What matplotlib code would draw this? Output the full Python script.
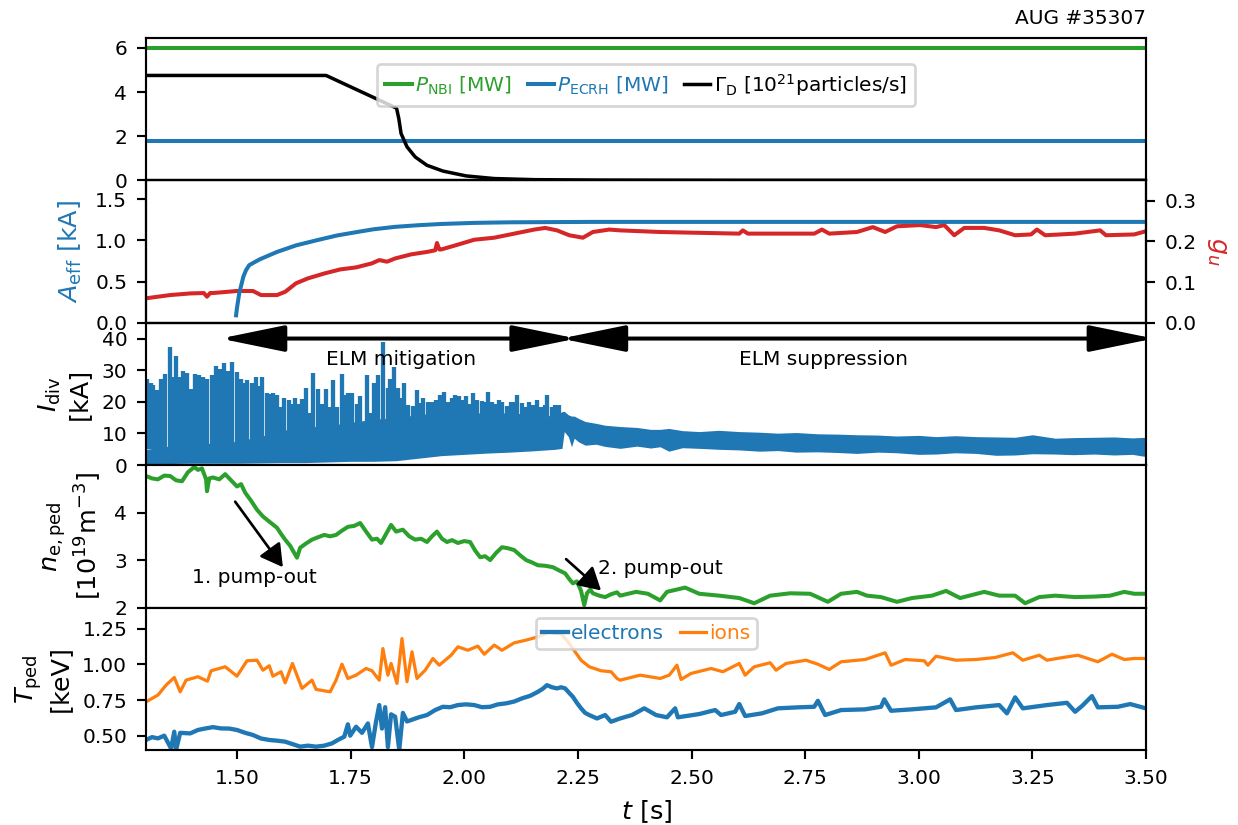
import matplotlib
matplotlib.use("Agg")
import matplotlib.pyplot as plt
from matplotlib.patches import ArrowStyle

# ---------------- data ----------------
# heating powers [MW]
t_nbi = [1.30, 3.50]
p_nbi = [6.0, 6.0]
t_ecrh = [1.30, 3.50]
p_ecrh = [1.76, 1.76]

# deuterium fuelling rate [1e21 particles/s]
t_gas = [1.300, 1.696, 1.851, 1.856, 1.861, 1.874, 1.892, 1.918, 1.953,
         2.004, 2.066, 2.154, 2.300, 2.600, 3.500]
gamma_d = [4.75, 4.75, 3.27, 2.80, 2.12, 1.52, 1.06, 0.68, 0.42,
           0.20, 0.08, 0.03, 0.01, 0.0, 0.0]

# effective coil current [kA]
t_aeff = [1.498, 1.500, 1.505, 1.510, 1.514, 1.520, 1.527, 1.550, 1.588, 1.630,
          1.674, 1.720, 1.762, 1.800, 1.848, 1.900, 1.950, 2.022, 2.100, 2.283,
          2.500, 3.500]
a_eff = [0.09, 0.18, 0.36, 0.47, 0.56, 0.64, 0.70, 0.77, 0.86, 0.94,
         1.00, 1.06, 1.10, 1.135, 1.165, 1.185, 1.200, 1.213, 1.220, 1.225,
         1.225, 1.225]

# g_u
t_gu = [1.300, 1.326, 1.353, 1.397, 1.427, 1.434, 1.441, 1.447, 1.500, 1.535,
        1.553, 1.588, 1.606, 1.630, 1.656, 1.692, 1.727, 1.762, 1.797, 1.813,
        1.830, 1.848, 1.883, 1.918, 1.936, 1.940, 1.945, 1.949, 1.980, 2.022,
        2.066, 2.110, 2.154, 2.178, 2.204, 2.231, 2.261, 2.283, 2.319, 2.343,
        2.431, 2.517, 2.605, 2.613, 2.624, 2.690, 2.770, 2.787, 2.803, 2.864,
        2.899, 2.926, 2.952, 3.003, 3.038, 3.056, 3.078, 3.100, 3.144, 3.177,
        3.212, 3.247, 3.260, 3.278, 3.344, 3.399, 3.412, 3.474, 3.500]
g_u = [0.060, 0.064, 0.068, 0.072, 0.073, 0.064, 0.073, 0.073, 0.078, 0.078,
       0.068, 0.068, 0.076, 0.097, 0.109, 0.121, 0.131, 0.136, 0.146, 0.154,
       0.150, 0.158, 0.168, 0.174, 0.178, 0.196, 0.180, 0.180, 0.190, 0.204,
       0.209, 0.219, 0.229, 0.233, 0.227, 0.215, 0.209, 0.223, 0.229, 0.227,
       0.223, 0.221, 0.219, 0.227, 0.219, 0.219, 0.219, 0.229, 0.219, 0.223,
       0.235, 0.223, 0.237, 0.240, 0.235, 0.240, 0.215, 0.233, 0.233, 0.227,
       0.215, 0.217, 0.229, 0.215, 0.219, 0.227, 0.215, 0.217, 0.225]

# divertor current [kA]: dense band (lower / upper edge) and individual ELM peaks
idiv_t = [1.300, 1.350, 1.400, 1.450, 1.500, 1.550, 1.600, 1.650, 1.700, 1.750,
          1.800, 1.850, 1.900, 1.950, 2.000, 2.050, 2.100, 2.150, 2.200, 2.215,
          2.220, 2.229, 2.236, 2.242, 2.251, 2.266, 2.290, 2.310, 2.343, 2.380,
          2.410, 2.431, 2.450, 2.480, 2.517, 2.560, 2.605, 2.650, 2.690, 2.730,
          2.778, 2.820, 2.864, 2.910, 2.952, 3.000, 3.038, 3.080, 3.126, 3.170,
          3.212, 3.250, 3.300, 3.340, 3.386, 3.430, 3.470, 3.500]
idiv_lo = [0.3, 0.5, 0.6, 0.6, 0.6, 0.7, 0.8, 0.8, 1.0, 1.2,
           1.2, 1.4, 2.2, 3.0, 3.4, 3.8, 4.1, 4.5, 5.0, 5.3,
           10.6, 9.0, 5.8, 8.5, 7.4, 6.3, 6.6, 5.9, 5.3, 6.0,
           5.4, 5.8, 4.4, 5.5, 5.3, 5.0, 4.8, 4.4, 4.6, 4.1,
           4.2, 4.0, 3.7, 4.1, 3.9, 3.4, 3.5, 3.9, 3.7, 3.1,
           3.2, 3.6, 3.5, 3.3, 3.5, 3.2, 3.4, 2.7]
idiv_hi = [5.0, 6.0, 6.5, 7.0, 7.5, 9.0, 11.0, 12.0, 12.5, 13.5,
           14.5, 15.0, 16.0, 16.5, 16.5, 16.5, 16.5, 16.0, 15.5, 16.9,
           17.0, 15.9, 15.5, 15.5, 14.8, 13.8, 13.2, 12.6, 12.2, 11.9,
           11.3, 11.3, 11.6, 10.9, 10.6, 11.0, 10.6, 10.4, 10.1, 10.3,
           9.9, 9.8, 9.6, 9.5, 9.2, 9.4, 9.0, 9.3, 9.0, 8.9,
           8.8, 9.6, 8.5, 8.7, 8.8, 8.9, 8.6, 8.8]
elm_t = [1.302, 1.311, 1.316, 1.324, 1.332, 1.342, 1.353, 1.358, 1.365, 1.373,
         1.382, 1.389, 1.398, 1.408, 1.417, 1.425, 1.433, 1.445, 1.454, 1.463,
         1.472, 1.481, 1.490, 1.500, 1.508, 1.516, 1.523, 1.533, 1.541, 1.549,
         1.556, 1.565, 1.573, 1.580, 1.588, 1.595, 1.604, 1.614, 1.621, 1.627,
         1.636, 1.643, 1.651, 1.659, 1.668, 1.678, 1.687, 1.695, 1.703, 1.712,
         1.721, 1.731, 1.738, 1.745, 1.754, 1.764, 1.771, 1.786, 1.795, 1.802,
         1.810, 1.821, 1.832, 1.837, 1.846, 1.854, 1.862, 1.868, 1.877, 1.888,
         1.896, 1.903, 1.910, 1.920, 1.928, 1.937, 1.947, 1.956, 1.965, 1.974,
         1.980, 1.989, 1.998, 2.004, 2.013, 2.020, 2.029, 2.038, 2.046, 2.053,
         2.062, 2.068, 2.076, 2.084, 2.093, 2.102, 2.110, 2.117, 2.126, 2.134,
         2.143, 2.152, 2.159, 2.168, 2.178, 2.183, 2.192, 2.200, 2.209]
elm_peak = [27.2, 25.9, 25.4, 23.8, 27.2, 28.9, 37.4, 28.0, 34.6, 28.0,
            29.6, 29.1, 24.0, 28.9, 28.6, 27.7, 27.2, 28.6, 31.2, 30.4,
            32.3, 29.6, 32.5, 29.3, 27.2, 26.1, 26.8, 26.1, 27.7, 25.1,
            27.7, 22.9, 22.5, 22.9, 22.3, 18.3, 21.2, 20.6, 19.4, 21.2,
            19.4, 20.9, 24.4, 16.4, 29.1, 24.0, 19.4, 24.0, 18.3, 27.0,
            18.3, 28.9, 22.3, 22.9, 22.9, 19.4, 21.7, 28.6, 16.4, 25.9,
            28.6, 38.8, 24.3, 27.2, 31.0, 24.3, 21.2, 25.9, 19.0, 18.7,
            23.6, 19.6, 21.2, 20.1, 19.8, 20.6, 22.3, 23.0, 20.1, 21.2,
            22.3, 21.9, 20.6, 21.9, 19.4, 22.8, 20.6, 20.4, 19.8, 23.0,
            20.1, 19.4, 20.6, 20.1, 18.7, 19.8, 20.1, 22.3, 19.6, 18.5,
            19.8, 19.0, 20.6, 18.3, 19.0, 22.3, 18.5, 19.0, 19.0]

# pedestal density [1e19 m^-3]
t_ne = [1.300, 1.313, 1.326, 1.340, 1.353, 1.366, 1.379, 1.392, 1.406, 1.414,
        1.423, 1.432, 1.434, 1.439, 1.447, 1.461, 1.474, 1.487, 1.500, 1.509,
        1.518, 1.531, 1.544, 1.557, 1.571, 1.579, 1.588, 1.597, 1.606, 1.617,
        1.626, 1.632, 1.639, 1.652, 1.665, 1.678, 1.692, 1.705, 1.718, 1.731,
        1.744, 1.758, 1.771, 1.784, 1.797, 1.808, 1.817, 1.828, 1.839, 1.850,
        1.865, 1.879, 1.892, 1.905, 1.918, 1.929, 1.940, 1.951, 1.962, 1.973,
        1.986, 2.000, 2.013, 2.024, 2.035, 2.046, 2.057, 2.070, 2.083, 2.096,
        2.110, 2.123, 2.136, 2.149, 2.162, 2.178, 2.195, 2.209, 2.222, 2.231,
        2.239, 2.248, 2.257, 2.264, 2.270, 2.277, 2.283, 2.297, 2.310, 2.323,
        2.336, 2.343, 2.378, 2.404, 2.431, 2.446, 2.486, 2.517, 2.561, 2.605,
        2.638, 2.673, 2.717, 2.761, 2.800, 2.829, 2.864, 2.886, 2.917, 2.952,
        2.985, 3.029, 3.060, 3.091, 3.144, 3.177, 3.212, 3.234, 3.265, 3.300,
        3.344, 3.386, 3.421, 3.452, 3.474, 3.500]
n_e = [4.77, 4.72, 4.70, 4.78, 4.77, 4.68, 4.66, 4.85, 4.96, 4.90,
       4.93, 4.70, 4.45, 4.72, 4.74, 4.70, 4.81, 4.68, 4.55, 4.60,
       4.42, 4.25, 4.06, 3.92, 3.81, 3.75, 3.68, 3.55, 3.43, 3.30,
       3.15, 3.05, 3.26, 3.35, 3.43, 3.48, 3.53, 3.50, 3.53, 3.62,
       3.70, 3.72, 3.78, 3.60, 3.43, 3.45, 3.36, 3.55, 3.74, 3.60,
       3.64, 3.50, 3.43, 3.45, 3.38, 3.50, 3.60, 3.45, 3.38, 3.42,
       3.36, 3.40, 3.38, 3.20, 3.06, 3.08, 3.00, 3.15, 3.27, 3.25,
       3.21, 3.10, 3.00, 2.95, 2.89, 2.88, 2.85, 2.78, 2.72, 2.60,
       2.51, 2.55, 2.35, 2.05, 2.30, 2.38, 2.30, 2.25, 2.22, 2.28,
       2.32, 2.25, 2.33, 2.29, 2.15, 2.33, 2.42, 2.29, 2.25, 2.20,
       2.09, 2.25, 2.30, 2.29, 2.12, 2.29, 2.33, 2.25, 2.22, 2.12,
       2.20, 2.25, 2.35, 2.20, 2.33, 2.25, 2.25, 2.09, 2.22, 2.25,
       2.22, 2.23, 2.25, 2.33, 2.29, 2.29]

# pedestal temperatures [keV]
t_te = [1.300, 1.313, 1.326, 1.340, 1.355, 1.362, 1.366, 1.375, 1.397, 1.414,
        1.431, 1.447, 1.465, 1.483, 1.500, 1.518, 1.535, 1.553, 1.571, 1.588,
        1.606, 1.623, 1.639, 1.656, 1.674, 1.692, 1.709, 1.722, 1.736, 1.744,
        1.749, 1.762, 1.775, 1.788, 1.797, 1.806, 1.813, 1.819, 1.826, 1.832,
        1.839, 1.848, 1.857, 1.865, 1.874, 1.883, 1.901, 1.918, 1.936, 1.953,
        1.969, 1.986, 2.004, 2.022, 2.039, 2.057, 2.074, 2.092, 2.110, 2.127,
        2.145, 2.162, 2.173, 2.182, 2.193, 2.204, 2.213, 2.222, 2.231, 2.239,
        2.248, 2.257, 2.266, 2.275, 2.292, 2.310, 2.323, 2.343, 2.369, 2.396,
        2.422, 2.446, 2.464, 2.470, 2.517, 2.552, 2.565, 2.596, 2.605, 2.618,
        2.655, 2.690, 2.734, 2.770, 2.778, 2.794, 2.829, 2.882, 2.917, 2.924,
        2.939, 2.985, 3.038, 3.069, 3.082, 3.126, 3.177, 3.194, 3.212, 3.229,
        3.282, 3.326, 3.344, 3.359, 3.381, 3.394, 3.438, 3.465, 3.500]
t_e = [0.470, 0.490, 0.481, 0.500, 0.410, 0.528, 0.400, 0.520, 0.516, 0.540,
       0.551, 0.560, 0.551, 0.550, 0.540, 0.520, 0.505, 0.480, 0.470, 0.465,
       0.458, 0.440, 0.423, 0.430, 0.423, 0.430, 0.446, 0.470, 0.493, 0.580,
       0.500, 0.563, 0.520, 0.586, 0.420, 0.600, 0.715, 0.550, 0.700, 0.420,
       0.650, 0.633, 0.400, 0.660, 0.600, 0.610, 0.630, 0.645, 0.680, 0.703,
       0.700, 0.715, 0.720, 0.715, 0.700, 0.703, 0.720, 0.727, 0.740, 0.762,
       0.780, 0.808, 0.830, 0.855, 0.840, 0.832, 0.840, 0.832, 0.800, 0.773,
       0.730, 0.692, 0.660, 0.645, 0.621, 0.645, 0.598, 0.621, 0.645, 0.692,
       0.645, 0.629, 0.692, 0.629, 0.652, 0.680, 0.645, 0.668, 0.722, 0.638,
       0.657, 0.692, 0.699, 0.703, 0.745, 0.645, 0.680, 0.685, 0.703, 0.755,
       0.675, 0.685, 0.699, 0.755, 0.680, 0.699, 0.715, 0.657, 0.769, 0.692,
       0.715, 0.731, 0.668, 0.708, 0.778, 0.699, 0.703, 0.722, 0.692]

t_ti = [1.300, 1.326, 1.344, 1.362, 1.375, 1.388, 1.414, 1.435, 1.443, 1.474,
        1.500, 1.522, 1.544, 1.557, 1.571, 1.579, 1.597, 1.606, 1.622, 1.643,
        1.665, 1.674, 1.705, 1.718, 1.731, 1.744, 1.762, 1.784, 1.797, 1.813,
        1.821, 1.832, 1.839, 1.852, 1.863, 1.874, 1.885, 1.896, 1.914, 1.931,
        1.945, 1.971, 1.986, 2.008, 2.030, 2.044, 2.066, 2.083, 2.110, 2.136,
        2.162, 2.187, 2.200, 2.213, 2.231, 2.257, 2.275, 2.301, 2.323, 2.336,
        2.343, 2.387, 2.431, 2.451, 2.468, 2.477, 2.499, 2.543, 2.569, 2.605,
        2.618, 2.638, 2.673, 2.686, 2.708, 2.752, 2.778, 2.803, 2.829, 2.882,
        2.926, 2.939, 2.970, 3.012, 3.020, 3.038, 3.082, 3.126, 3.168, 3.207,
        3.229, 3.265, 3.282, 3.317, 3.350, 3.394, 3.425, 3.452, 3.474, 3.500]
t_i = [0.738, 0.785, 0.855, 0.909, 0.808, 0.890, 0.914, 0.883, 0.956, 0.984,
       0.918, 1.026, 1.030, 0.960, 0.991, 0.918, 0.949, 0.871, 1.007, 0.832,
       0.890, 0.825, 0.808, 0.890, 1.002, 0.902, 0.925, 0.972, 0.956, 0.890,
       1.112, 0.925, 1.007, 0.867, 1.182, 0.879, 1.089, 0.902, 0.960, 1.042,
       0.995, 1.065, 1.124, 1.100, 1.129, 1.072, 1.136, 1.100, 1.152, 1.171,
       1.194, 1.229, 1.217, 1.217, 1.147, 1.030, 0.984, 0.956, 0.949, 0.902,
       0.890, 0.925, 0.902, 0.925, 0.995, 0.895, 0.937, 0.972, 0.949, 1.007,
       0.925, 0.984, 1.012, 0.960, 1.007, 1.030, 1.002, 0.965, 1.019, 1.035,
       1.082, 0.995, 1.035, 1.026, 0.995, 1.058, 1.030, 1.035, 1.049, 1.082,
       1.030, 1.065, 1.030, 1.049, 1.065, 1.019, 1.072, 1.035, 1.042, 1.042]

x_ticks = [1.50, 1.75, 2.00, 2.25, 2.50, 2.75, 3.00, 3.25, 3.50]
x_tick_labels = ["1.50", "1.75", "2.00", "2.25", "2.50", "2.75", "3.00", "3.25", "3.50"]

# ---------------- figure ----------------
plt.rcParams.update({
    "font.size": 7.5,
    "lines.linewidth": 1.5,
    "legend.fontsize": 7.5,
})

C_BLUE, C_ORANGE, C_GREEN, C_RED = "#1f77b4", "#ff7f0e", "#2ca02c", "#d62728"
LABEL_SIZE = 9.5

fig, axes = plt.subplots(5, 1, sharex=True, figsize=(6.4, 4.265), dpi=193.44)
fig.subplots_adjust(left=0.118, right=0.9257, top=0.954, bottom=0.091, hspace=0)
ax1, ax2, ax3, ax4, ax5 = axes


def colour_legend(leg):
    for txt, ln in zip(leg.get_texts(), leg.get_lines()):
        txt.set_color(ln.get_color())


# panel 1: heating and gas puff
ax1.plot(t_nbi, p_nbi, color=C_GREEN, label=r"$P_{\rm NBI}$ [MW]")
ax1.plot(t_ecrh, p_ecrh, color=C_BLUE, label=r"$P_{\rm ECRH}$ [MW]")
ax1.plot(t_gas, gamma_d, color="k", lw=1.3,
         label=r"$\Gamma_{\rm D}$ [$10^{21}$particles/s]")
ax1.set_ylim(0, 6.45)
ax1.set_yticks([0, 2, 4, 6])
leg1 = ax1.legend(loc="upper center", bbox_to_anchor=(0.5, 0.89), ncol=3,
                  handlelength=1.3, handletextpad=0.15, columnspacing=0.8)
colour_legend(leg1)

# panel 2: coil current and g_u
ax2r = ax2.twinx()
ax2r.plot(t_gu, g_u, color=C_RED)
ax2.plot(t_aeff, a_eff, color=C_BLUE)
ax2.set_zorder(ax2r.get_zorder() + 1)
ax2.patch.set_visible(False)
ax2.set_ylim(0, 1.73)
ax2.set_yticks([0.0, 0.5, 1.0, 1.5])
ax2r.set_ylim(0, 0.35)
ax2r.set_yticks([0.0, 0.1, 0.2, 0.3])
ax2.set_ylabel(r"$A_{\rm eff}$ [kA]", color=C_BLUE, fontsize=LABEL_SIZE, labelpad=4)
ax2r.set_ylabel(r"$g_u$", color=C_RED, fontsize=LABEL_SIZE, rotation=270,
                labelpad=12)

# panel 3: divertor current with ELM phases
ax3.fill_between(idiv_t, idiv_lo, idiv_hi, color=C_BLUE, lw=0)
ax3.vlines(elm_t, 5.0, elm_peak, color=C_BLUE, lw=1.6)
ax3.set_ylim(0, 45)
ax3.set_yticks([0, 10, 20, 30, 40])
ax3.set_ylabel("$I_{\\rm div}$\n[kA]", fontsize=LABEL_SIZE, labelpad=4)

phase_arrow = dict(arrowstyle=ArrowStyle("<|-|>", head_length=2.05, head_width=0.42),
                   mutation_scale=10, lw=1.5, color="k", shrinkA=0, shrinkB=0,
                   clip_on=False)
ax3.annotate("", xy=(1.463, 40), xytext=(2.247, 40), arrowprops=phase_arrow,
             annotation_clip=False)
ax3.annotate("", xy=(2.213, 40), xytext=(3.517, 40), arrowprops=phase_arrow,
             annotation_clip=False)
ax3.text(1.862, 33.3, "ELM mitigation", ha="center", va="center")
ax3.text(2.79, 33.3, "ELM suppression", ha="center", va="center")

# panel 4: pedestal density with pump-out markers
ax4.plot(t_ne, n_e, color=C_GREEN)
ax4.set_ylim(2, 5.0)
ax4.set_yticks([2, 3, 4])
ax4.set_ylabel(r"$n_{\rm e,ped}$" + "\n" + r"[$10^{19}$m$^{-3}$]",
               fontsize=LABEL_SIZE, labelpad=4)
pump_arrow = dict(arrowstyle=ArrowStyle("-|>", head_length=0.7, head_width=0.4),
                  mutation_scale=10, lw=1.0, color="k", shrinkA=0, shrinkB=0)
ax4.annotate("", xy=(1.601, 2.85), xytext=(1.496, 4.23), arrowprops=pump_arrow)
ax4.text(1.538, 2.64, "1. pump-out", ha="center", va="center")
ax4.annotate("", xy=(2.301, 2.36), xytext=(2.224, 3.02), arrowprops=pump_arrow)
ax4.text(2.294, 2.83, "2. pump-out", ha="left", va="center")

# panel 5: pedestal temperatures
ax5.plot(t_te, t_e, color=C_BLUE, lw=1.6, label="electrons")
ax5.plot(t_ti, t_i, color=C_ORANGE, lw=1.2, label="ions")
ax5.set_ylim(0.4, 1.4)
ax5.set_yticks([0.50, 0.75, 1.00, 1.25])
ax5.set_ylabel("$T_{\\rm ped}$\n[keV]", fontsize=LABEL_SIZE, labelpad=4)
leg5 = ax5.legend(loc="upper center", ncol=2, handlelength=1.3,
                  handletextpad=0.15, columnspacing=0.8, borderpad=0.3)
colour_legend(leg5)

ax5.set_xlim(1.3, 3.5)
ax5.set_xticks(x_ticks)
ax5.set_xticklabels(x_tick_labels)
ax5.set_xlabel(r"$t$ [s]", fontsize=LABEL_SIZE)
for ax in (ax1, ax2, ax3, ax4):
    ax.tick_params(axis="x", length=0)

fig.text(0.9257, 0.978, "AUG #35307", ha="right", va="center")

fig.savefig("out.png", dpi=193.44)
